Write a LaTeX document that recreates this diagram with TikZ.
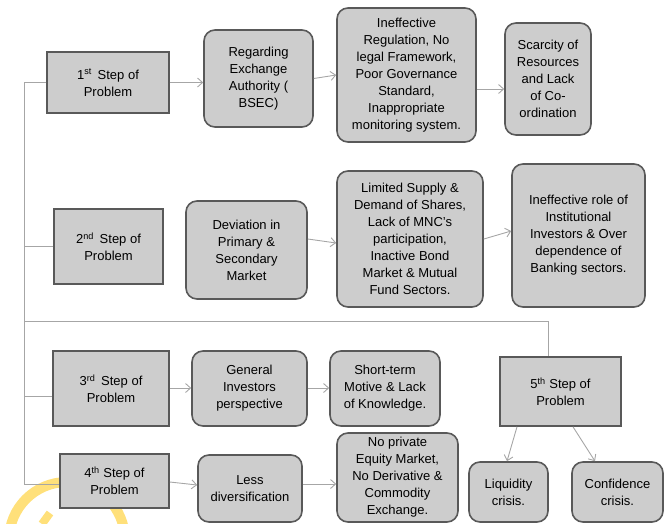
\documentclass[tikz,border=0pt]{standalone}
\usepackage{fontspec}
\setmainfont{Liberation Sans}
\usetikzlibrary{arrows.meta}
\definecolor{boxfill}{HTML}{CDCDCD}
\definecolor{boxline}{HTML}{595959}
\definecolor{conn}{HTML}{A6A6A6}
\definecolor{wmark}{HTML}{FFE07A}
\tikzset{
  base/.style={draw=boxline, fill=boxfill, line width=1.6pt, align=center,
    font=\fontsize{13}{17}\selectfont, inner sep=1pt},
  stepbox/.style={base, rectangle},
  roundbox/.style={base, rounded corners=11pt},
  conline/.style={draw=conn, line width=0.9pt},
  arr/.style={conline, -{Straight Barb[length=5pt,width=9pt,line width=0.9pt]}},
}
\begin{document}
\begin{tikzpicture}[x=1pt,y=-1pt]
\useasboundingbox (0,0) rectangle (670,523);
% watermark
\begin{scope}
\clip (0,0) rectangle (670,523);
\draw[wmark, line width=10pt] (67,540) circle[radius=58];
\draw[wmark, line width=8pt] (42,524) -- (50,513);
\end{scope}
% nodes
\node[stepbox, minimum width=122pt, minimum height=61pt] (s1) at (108,82.5) {1\textsuperscript{st}\, Step of\\Problem};
\node[roundbox, minimum width=109pt, minimum height=97pt] (r1a) at (258.5,78.5) {Regarding\\Exchange\\Authority (\\BSEC)};
\node[roundbox, minimum width=139pt, minimum height=134pt] (r1b) at (406.5,75) {Ineffective\\Regulation, No\\legal Framework,\\Poor Governance\\Standard,\\Inappropriate\\monitoring system.};
\node[roundbox, minimum width=86pt, minimum height=112pt] (r1c) at (548,79) {Scarcity of\\Resources\\and Lack\\of Co-\\ordination};
\node[stepbox, minimum width=109pt, minimum height=75pt] (s2) at (108.5,246.5) {2\textsuperscript{nd}\, Step of\\Problem};
\node[roundbox, minimum width=121pt, minimum height=98pt] (r2a) at (246.5,250) {Deviation in\\Primary \&\\Secondary\\Market};
\node[roundbox, minimum width=146pt, minimum height=136pt] (r2b) at (410,239) {Limited Supply \&\\Demand of Shares,\\Lack of MNC’s\\participation,\\Inactive Bond\\Market \& Mutual\\Fund Sectors.};
\node[roundbox, minimum width=133pt, minimum height=143pt] (r2c) at (578.5,235.5) {Ineffective role of\\Institutional\\Investors \& Over\\dependence of\\Banking sectors.};
\node[stepbox, minimum width=116pt, minimum height=75pt] (s3) at (111,388.5) {3\textsuperscript{rd}\, Step of\\Problem};
\node[roundbox, minimum width=115pt, minimum height=75pt] (r3a) at (249.5,388.5) {General\\Investors\\perspective};
\node[roundbox, minimum width=110pt, minimum height=75pt] (r3b) at (385,388.5) {Short-term\\Motive \& Lack\\of Knowledge.};
\node[stepbox, minimum width=109pt, minimum height=54pt] (s4) at (114.5,481) {4\textsuperscript{th} Step of\\Problem};
\node[roundbox, minimum width=104pt, minimum height=67pt] (r4a) at (250,488.5) {Less\\diversification};
\node[roundbox, minimum width=121pt, minimum height=89pt] (r4b) at (397.5,477.5) {No private\\Equity Market,\\No Derivative \&\\Commodity\\Exchange.};
\node[stepbox, minimum width=121pt, minimum height=69pt] (s5) at (560.5,391.5) {5\textsuperscript{th} Step of\\Problem};
\node[roundbox, minimum width=79pt, minimum height=60pt] (l5) at (508.5,492) {Liquidity\\crisis.};
\node[roundbox, minimum width=91pt, minimum height=60pt] (c5) at (617.5,492) {Confidence\\crisis.};
% connectors
\coordinate (trunk) at (24,0);
\coordinate (j5) at (548,321);
\draw[conline] (s1.west) -- (s1.west -| trunk) -- ([yshift=-3pt]s4.west -| trunk) -- ([yshift=-3pt]s4.west);
\draw[conline] (s2.west) -- (s2.west -| trunk);
\draw[conline] ([yshift=-7.5pt]s3.west) -- ([yshift=-7.5pt]s3.west -| trunk);
\draw[conline] (j5 -| trunk) -- (j5) -- (j5 |- s5.north);
\draw[arr] (s1.east) -- (s1.east -| r1a.west);
\draw[arr] (r1a.east) -- (r1b.west);
\draw[arr] ([yshift=-14pt]r1b.east) -- ([yshift=-14pt]r1b.east -| r1c.west);
\draw[arr] ([yshift=11pt]r2a.east) -- ([yshift=-4pt]r2b.west);
\draw[arr] (r2b.east) -- ([yshift=4.5pt]r2c.west);
\draw[arr] ([yshift=0.5pt]s3.east) -- ([yshift=0.5pt]s3.east -| r3a.west);
\draw[arr] ([yshift=0.5pt]r3a.east) -- ([yshift=0.5pt]r3a.east -| r3b.west);
\draw[arr] ([yshift=-1pt]s4.east) -- ([yshift=3.5pt]r4a.west);
\draw[arr] ([yshift=4.5pt]r4a.east) -- ([yshift=4.5pt]r4a.east -| r4b.west);
\draw[arr] ([xshift=-43.5pt]s5.south) -- ([xshift=-1.5pt]l5.north);
\draw[arr] ([xshift=12.5pt]s5.south) -- ([xshift=-22.5pt]c5.north);
\end{tikzpicture}
\end{document}
